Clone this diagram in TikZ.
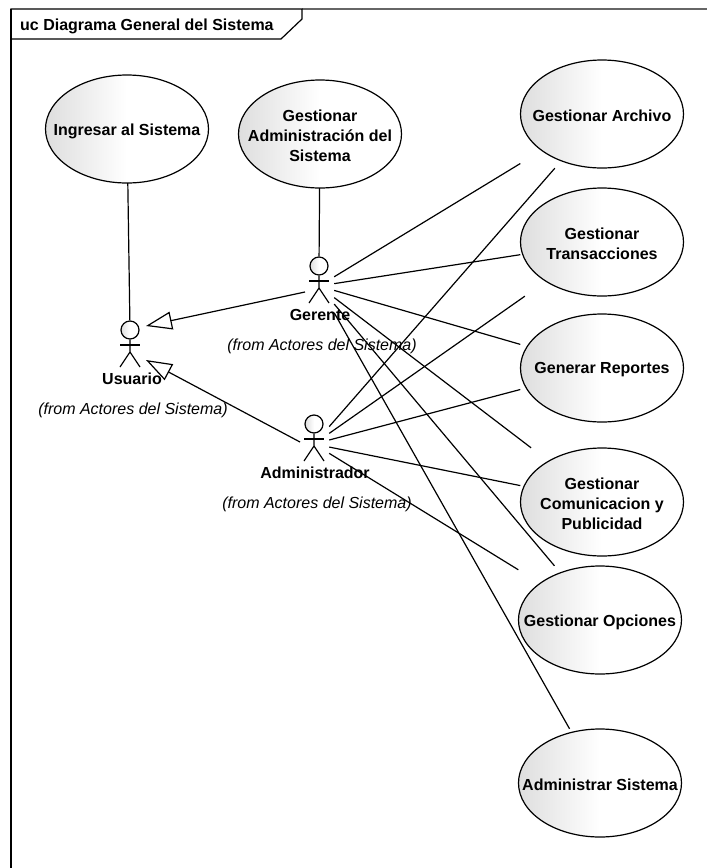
\documentclass[tikz,border=0pt]{standalone}
\usepackage{fontspec}
\setmainfont{Liberation Sans}
\usetikzlibrary{arrows.meta,shapes.geometric}

\tikzset{
	ucase/.style={ellipse, draw, line width=1.2pt, inner sep=0pt, minimum width=163pt, minimum height=108pt, left color=black!13, right color=white, middle color=white},
	ubox/.style={rectangle, inner sep=0pt, minimum width=163pt, minimum height=108pt},
	utext/.style={inner sep=0pt, align=center, font=\bfseries\fontsize{16}{20}\selectfont},
	abox/.style={rectangle, inner sep=0pt, minimum width=30pt, minimum height=58pt},
	aname/.style={font=\bfseries\fontsize{16}{20}\selectfont},
	afrom/.style={font=\itshape\fontsize{16}{20}\selectfont},
	assoc/.style={line width=1.2pt},
	gener/.style={line width=1.2pt, -{Triangle[open,length=26pt,width=18pt]}}
}

% one actor: name, x, y of the middle of its box
\newcommand{\actor}[3]{
	\node[abox] (#1) at (#2,#3) {};
	\node[circle, draw, line width=1.2pt, minimum size=18pt, inner sep=0pt, left color=black!13, right color=white, middle color=white] (#1head) at (#2,#3-20) {};
	\draw[line width=1.2pt] (#1head.south) -- (#2,#3+2) -- (#2-10,#3+17);
	\draw[line width=1.2pt] (#2,#3+2) -- (#2+10,#3+17);
	\draw[line width=1.2pt] (#2-10,#3-5) -- (#2+10,#3-5);
}

\begin{document}
\begin{tikzpicture}[x=1pt,y=-1pt]
	\useasboundingbox (0,0) rectangle (707,868);

	% frame
	\draw[line width=1.2pt] (11,868) -- (11,9);
	\draw[line width=1.2pt, black!60] (302,9) -- (707,9);
	\draw[line width=1.2pt] (11,9) -- (302,9) -- (302,19) -- (281,39) -- (11,39) -- cycle;
	\node[anchor=west, inner sep=0pt, font=\bfseries\fontsize{16}{20}\selectfont] (title) at (20,26) {uc Diagrama General del Sistema};

	% use cases
	\foreach \n/\x/\y/\t in {ingr/127/129/{Ingresar al Sistema},
		gadm/320/134/{Gestionar\\Administración del\\Sistema},
		arch/602/114/{Gestionar Archivo},
		tran/602/242/{Gestionar\\Transacciones},
		repo/602/368/{Generar Reportes},
		comu/602/502/{Gestionar\\Comunicacion y\\Publicidad},
		opci/600/620/{Gestionar Opciones},
		asis/600/783/{Administrar Sistema}}
	{
		\node[ucase] (\n) at (\x,\y) {};
		\node[ubox] (\n-box) at (\x,\y) {};
		\node[utext] (\n-text) at (\x,\y+2) {\t};
	}

	% actors
	\actor{usu}{130}{350}
	\actor{ger}{319}{286}
	\actor{adm}{314}{444}

	\node[aname] (usuname) at (132,379) {Usuario};
	\node[aname] (gername) at (320,315) {Gerente};
	\node[aname] (admname) at (315,473) {Administrador};
	\node[afrom] (usufrom) at (133,410) {(from Actores del Sistema)};
	\node[afrom] (gerfrom) at (322,346) {(from Actores del Sistema)};
	\node[afrom] (admfrom) at (317,504) {(from Actores del Sistema)};

	% associations
	\draw[assoc] (ingr-box) -- (usuhead);
	\draw[assoc] (gadm-box) -- (gerhead);
	\foreach \u in {arch,tran,repo,comu,opci,asis} \draw[assoc] (ger) -- (\u-box);
	\foreach \u in {arch,tran,repo,comu,opci} \draw[assoc] (adm) -- (\u-box);

	% generalizations
	\coordinate (gerfoot) at (305,292);
	\coordinate (admfoot) at (300,442);
	\coordinate (usutipa) at (146,326);
	\coordinate (usutipb) at (146,360);
	\draw[gener] (gerfoot) -- (usutipa);
	\draw[gener] (admfoot) -- (usutipb);
\end{tikzpicture}
\end{document}
